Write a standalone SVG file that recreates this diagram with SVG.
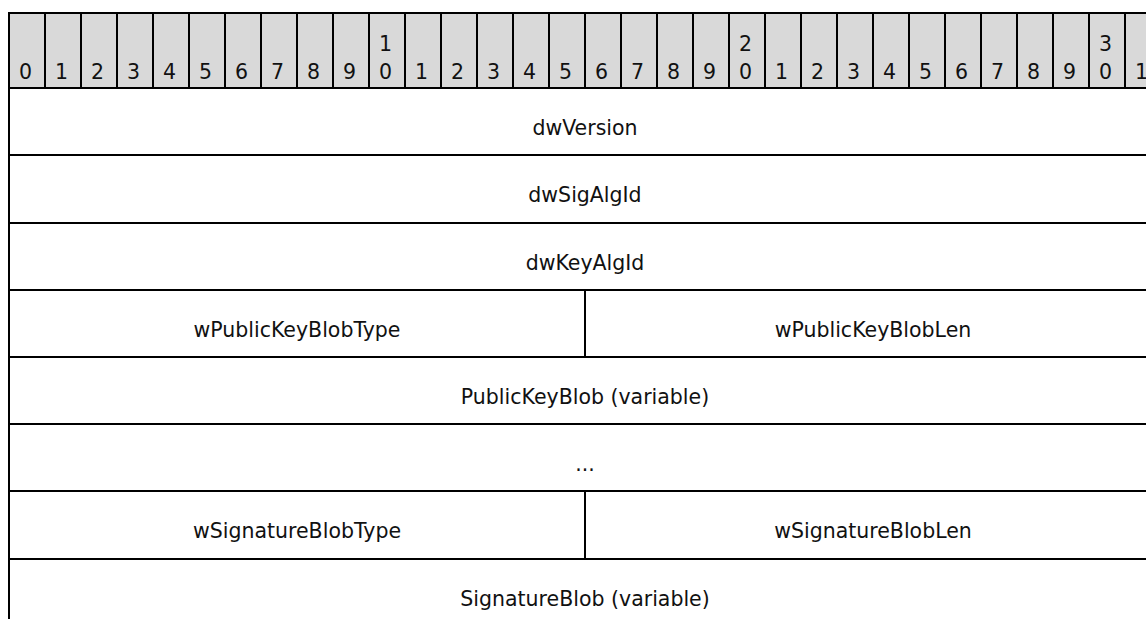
<svg xmlns="http://www.w3.org/2000/svg" width="1146" height="619" viewBox="0 0 1146 619">
<style>
.h{fill:#d9d9d9;stroke:#000;stroke-width:2}
.c{fill:#fff;stroke:#000;stroke-width:2}
.d{font-family:"DejaVu Sans",Verdana,sans-serif;font-size:20.5px;fill:#111}
.t{font-family:"DejaVu Sans",Verdana,sans-serif;font-size:20.5px;fill:#111;text-anchor:middle}
</style>
<rect width="1146" height="619" fill="#fff"/>
<g id="header">
<rect class="h" x="9" y="13" width="36" height="75"/><text class="d" x="19" y="79">0</text>
<rect class="h" x="45" y="13" width="36" height="75"/><text class="d" x="55" y="79">1</text>
<rect class="h" x="81" y="13" width="36" height="75"/><text class="d" x="91" y="79">2</text>
<rect class="h" x="117" y="13" width="36" height="75"/><text class="d" x="127" y="79">3</text>
<rect class="h" x="153" y="13" width="36" height="75"/><text class="d" x="163" y="79">4</text>
<rect class="h" x="189" y="13" width="36" height="75"/><text class="d" x="199" y="79">5</text>
<rect class="h" x="225" y="13" width="36" height="75"/><text class="d" x="235" y="79">6</text>
<rect class="h" x="261" y="13" width="36" height="75"/><text class="d" x="271" y="79">7</text>
<rect class="h" x="297" y="13" width="36" height="75"/><text class="d" x="307" y="79">8</text>
<rect class="h" x="333" y="13" width="36" height="75"/><text class="d" x="343" y="79">9</text>
<rect class="h" x="369" y="13" width="36" height="75"/><text class="d" x="379" y="51">1</text><text class="d" x="379" y="79">0</text>
<rect class="h" x="405" y="13" width="36" height="75"/><text class="d" x="415" y="79">1</text>
<rect class="h" x="441" y="13" width="36" height="75"/><text class="d" x="451" y="79">2</text>
<rect class="h" x="477" y="13" width="36" height="75"/><text class="d" x="487" y="79">3</text>
<rect class="h" x="513" y="13" width="36" height="75"/><text class="d" x="523" y="79">4</text>
<rect class="h" x="549" y="13" width="36" height="75"/><text class="d" x="559" y="79">5</text>
<rect class="h" x="585" y="13" width="36" height="75"/><text class="d" x="595" y="79">6</text>
<rect class="h" x="621" y="13" width="36" height="75"/><text class="d" x="631" y="79">7</text>
<rect class="h" x="657" y="13" width="36" height="75"/><text class="d" x="667" y="79">8</text>
<rect class="h" x="693" y="13" width="36" height="75"/><text class="d" x="703" y="79">9</text>
<rect class="h" x="729" y="13" width="36" height="75"/><text class="d" x="739" y="51">2</text><text class="d" x="739" y="79">0</text>
<rect class="h" x="765" y="13" width="36" height="75"/><text class="d" x="775" y="79">1</text>
<rect class="h" x="801" y="13" width="36" height="75"/><text class="d" x="811" y="79">2</text>
<rect class="h" x="837" y="13" width="36" height="75"/><text class="d" x="847" y="79">3</text>
<rect class="h" x="873" y="13" width="36" height="75"/><text class="d" x="883" y="79">4</text>
<rect class="h" x="909" y="13" width="36" height="75"/><text class="d" x="919" y="79">5</text>
<rect class="h" x="945" y="13" width="36" height="75"/><text class="d" x="955" y="79">6</text>
<rect class="h" x="981" y="13" width="36" height="75"/><text class="d" x="991" y="79">7</text>
<rect class="h" x="1017" y="13" width="36" height="75"/><text class="d" x="1027" y="79">8</text>
<rect class="h" x="1053" y="13" width="36" height="75"/><text class="d" x="1063" y="79">9</text>
<rect class="h" x="1089" y="13" width="36" height="75"/><text class="d" x="1099" y="51">3</text><text class="d" x="1099" y="79">0</text>
<rect class="h" x="1125" y="13" width="36" height="75"/><text class="d" x="1135" y="79">1</text>
</g>
<g id="dwVersion"><rect class="c" x="9" y="88" width="1152" height="67"/><text class="t" x="585" y="135">dwVersion</text></g>
<g id="dwSigAlgId"><rect class="c" x="9" y="155" width="1152" height="68"/><text class="t" x="585" y="202">dwSigAlgId</text></g>
<g id="dwKeyAlgId"><rect class="c" x="9" y="223" width="1152" height="67"/><text class="t" x="585" y="270">dwKeyAlgId</text></g>
<g id="wPublicKeyBlobType"><rect class="c" x="9" y="290" width="576" height="67"/><text class="t" x="297" y="337">wPublicKeyBlobType</text></g>
<g id="wPublicKeyBlobLen"><rect class="c" x="585" y="290" width="576" height="67"/><text class="t" x="873" y="337">wPublicKeyBlobLen</text></g>
<g id="PublicKeyBlob"><rect class="c" x="9" y="357" width="1152" height="67"/><text class="t" x="585" y="404">PublicKeyBlob (variable)</text></g>
<g id="ellipsis"><rect class="c" x="9" y="424" width="1152" height="67"/><text class="t" x="585" y="471">...</text></g>
<g id="wSignatureBlobType"><rect class="c" x="9" y="491" width="576" height="68"/><text class="t" x="297" y="538">wSignatureBlobType</text></g>
<g id="wSignatureBlobLen"><rect class="c" x="585" y="491" width="576" height="68"/><text class="t" x="873" y="538">wSignatureBlobLen</text></g>
<g id="SignatureBlob"><rect class="c" x="9" y="559" width="1152" height="67"/><text class="t" x="585" y="606">SignatureBlob (variable)</text></g>
<g id="connectors"></g>
</svg>
